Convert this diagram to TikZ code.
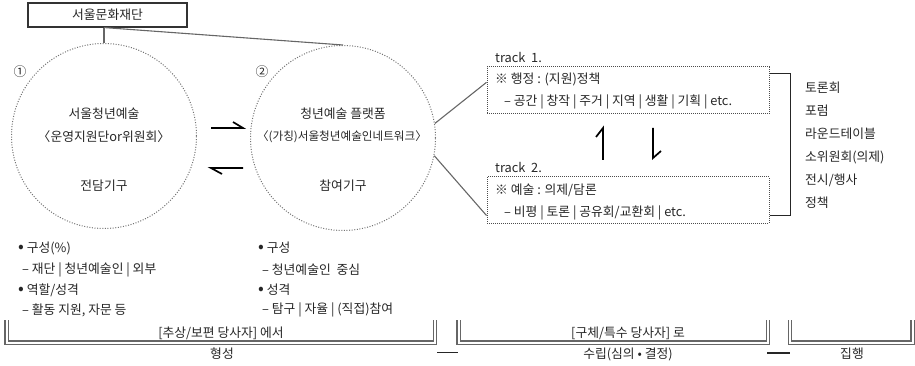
\documentclass[tikz,border=0pt]{standalone}
\usepackage{fontspec}
\setmainfont{Noto Sans CJK KR}
\usetikzlibrary{calc}
\newcommand{\bigbul}{{\fontsize{17}{14}\selectfont •}}
\begin{document}
\begin{tikzpicture}[x=1pt,y=-1pt,
  txt/.style={font=\fontsize{12.8}{14}\selectfont, text=black!85, inner sep=0pt},
  lt/.style={txt, anchor=west},
  bubble/.style={circle, draw=black!55, line width=1pt, dash pattern=on 1pt off 1.6pt, minimum size=185pt, inner sep=0pt},
  trackbox/.style={draw=black!70, line width=1pt, dash pattern=on 1pt off 1pt, minimum width=282pt, inner sep=0pt},
  link/.style={draw=black!60, line width=1.1pt},
  harp/.style={line width=1.7pt, black, line join=miter},
  dbl/.style={draw=black!60, double=white, double distance=2pt, line width=1.1pt},
  thinline/.style={draw=black!85, line width=1.1pt},
]
\useasboundingbox (0,0) rectangle (915,366);

% top box
\node[draw=black!80, line width=1.1pt, minimum width=159pt, minimum height=24pt, txt] (top) at (107.5,15) {서울문화재단};

% circles
\node[bubble] (c1) at (104,136) {};
\node[bubble] (c2) at (343,138) {};
\node[txt] (n1) at (20,72) {①};
\node[txt] (n2) at (262,72) {②};

\node[txt] (c1a) at (104,114) {서울청년예술};
\node[txt] (c1b) at (104,137) {〈운영지원단or위원회〉};
\node[txt] (c1c) at (104,186) {전담기구};
\node[txt] (c2a) at (343,114) {청년예술 플랫폼};
\node[txt, font=\fontsize{11.6}{14}\selectfont] (c2b) at (342,137) {〈(가칭)서울청년예술인네트워크〉};
\node[txt] (c2c) at (343,186) {참여기구};

\coordinate (tj) at (c1.north |- top.south);
\draw[link] (c1.north) -- (tj);
\draw[link] (tj) -- (c2.north);

% harpoons between circles
\draw[harp] (211,128) -- (243,128) -- (233,122);
\draw[harp] (243,168) -- (211,168) -- (222,174);

% track boxes
\node[lt] (tr1) at (495,57) {track~~1.};
\node[trackbox, minimum height=47pt] (t1) at (628,90.5) {};
\node[lt] (t1a) at (495,79) {※ 행정 : (지원)정책};
\node[lt] (t1b) at (504,102) {– 공간 | 창작 | 주거 | 지역 | 생활 | 기획 | etc.};

\node[lt] (tr2) at (495,167) {track~~2.};
\node[trackbox, minimum height=46pt] (t2) at (628,200) {};
\node[lt] (t2a) at (495,190) {※ 예술 : 의제/담론};
\node[lt] (t2b) at (504,213) {– 비평 | 토론 | 공유회/교환회 | etc.};

\draw[link] (c2.9) -- ($(t1.north west)!0.33!(t1.south west)$);
\draw[link] (c2.-11) -- ($(t2.north west)!0.83!(t2.south west)$);

% harpoons between tracks
\draw[harp] (603,160) -- (603,128) -- (596,137);
\draw[harp] (653,128) -- (653,158) -- (661,151);

% bracket and list
\draw[thinline] ($(t1.north east)+(0,7)$) -- ++(21,0) |- ($(t2.south east)+(0,-8)$);
\node[lt] (r1) at (805,88) {토론회};
\node[lt] (r2) at (805,111) {포럼};
\node[lt] (r3) at (805,134) {라운드테이블};
\node[lt] (r4) at (805,157) {소위원회(의제)};
\node[lt] (r5) at (805,180) {전시/행사};
\node[lt] (r6) at (805,203) {정책};

% lower lists
\node[lt] (l1) at (18,248) {\bigbul\ 구성(\%)};
\node[lt] (l2) at (22,270) {– 재단 | 청년예술인 | 외부};
\node[lt] (l3) at (18,290) {\bigbul\ 역할/성격};
\node[lt] (l4) at (22,310) {– 활동~지원,~자문~등};
\node[lt] (m1) at (258,248) {\bigbul\ 구성};
\node[lt] (m2) at (262,270) {– 청년예술인~~중심};
\node[lt] (m3) at (258,290) {\bigbul\ 성격};
\node[lt] (m4) at (262,310) {– 탐구 | 자율 | (직접)참여};

% bottom double brackets
\draw[dbl] (6.5,320) |- (435,342.5) -- (435,320);
\draw[dbl] (458.5,320) |- (768,342.5) -- (768,320);
\draw[dbl] (790,320) |- (912.5,342.5) -- (912.5,320);
\node[txt] (b1) at (221,333) {[추상/보편~당사자]~에서};
\node[txt] (b2) at (628,333) {[구체/특수~당사자]~로};
\node[txt] (f1) at (222,354) {형성};
\node[txt] (f2) at (628,354) {수립(심의 • 결정)};
\node[txt] (f3) at (852,354) {집행};
\draw[thinline] (437,352.5) -- (458,352.5);
\draw[thinline] (767,353) -- (790,353);
\end{tikzpicture}
\end{document}
